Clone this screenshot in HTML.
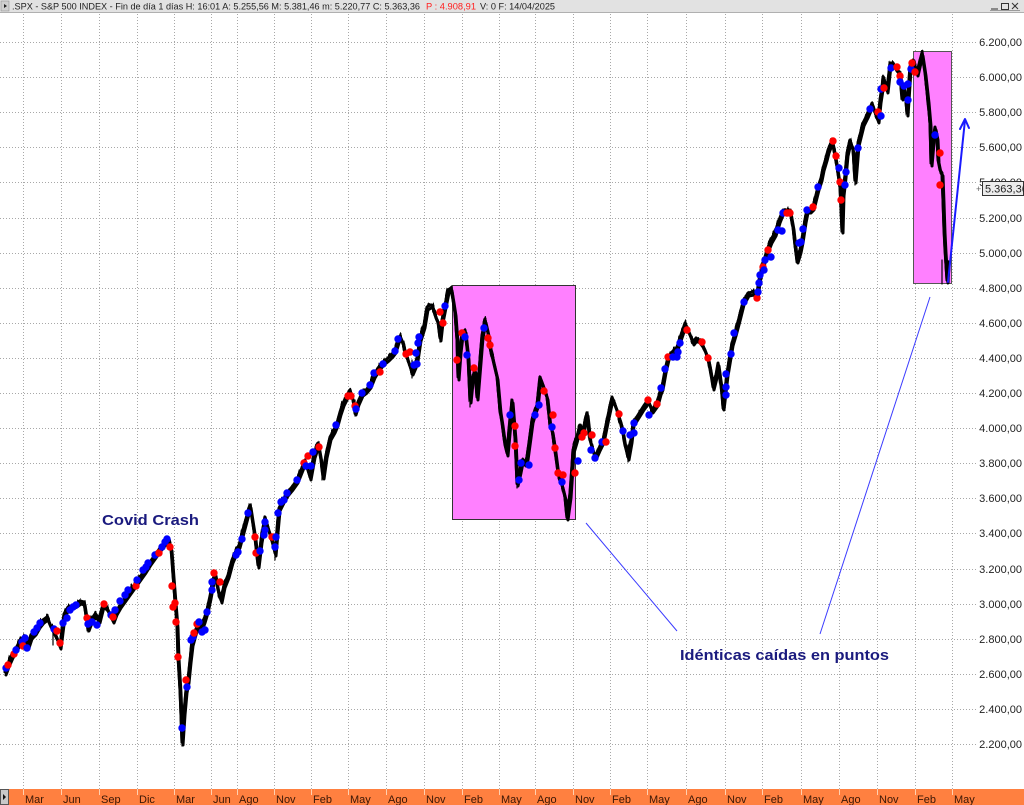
<!DOCTYPE html>
<html><head><meta charset="utf-8">
<style>
html,body{margin:0;padding:0;background:#fff;}
svg{display:block;}
text{font-family:"Liberation Sans",Arial,sans-serif;}
.b{fill:#0000ff;}
.r{fill:#ff0000;}
</style></head>
<body>
<svg width="1024" height="805" viewBox="0 0 1024 805" xmlns="http://www.w3.org/2000/svg">
<defs>
<filter id="jag" x="-2%" y="-5%" width="104%" height="110%">
<feTurbulence type="fractalNoise" baseFrequency="0.4 0.015" numOctaves="2" seed="7" result="n"/>
<feColorMatrix in="n" type="matrix" values="0 0 0 0 0.5  0 1 0 0 0  0 0 0 0 0  0 0 0 0 1" result="m"/>
<feDisplacementMap in="SourceGraphic" in2="m" scale="10" xChannelSelector="R" yChannelSelector="G"/>
</filter>
</defs>
<rect x="0" y="0" width="1024" height="805" fill="#fff"/>
<!-- header -->
<rect x="0" y="0" width="1024" height="12" fill="#e2e2e2"/>
<line x1="0" y1="12.5" x2="1024" y2="12.5" stroke="#b0b0b0" stroke-width="1"/>
<rect x="1" y="1" width="8" height="10" fill="#d0d0d0" stroke="#888" stroke-width="0.5"/>
<polygon points="4,4 7,6 4,8" fill="#222"/>
<text x="12" y="9.5" font-size="9" fill="#222" textLength="408" lengthAdjust="spacingAndGlyphs">.SPX - S&amp;P 500 INDEX - Fin de día 1 días H: 16:01  A: 5.255,56  M: 5.381,46  m: 5.220,77  C: 5.363,36</text>
<text x="426" y="9.5" font-size="9" fill="#ff2020" textLength="50" lengthAdjust="spacingAndGlyphs">P : 4.908,91</text>
<text x="480" y="9.5" font-size="9" fill="#222" textLength="75" lengthAdjust="spacingAndGlyphs">V: 0  F: 14/04/2025</text>
<g stroke="#333" stroke-width="1" fill="none">
<line x1="991" y1="9" x2="998" y2="9"/>
<rect x="1001.5" y="3.5" width="7" height="6"/>
<line x1="1012" y1="3" x2="1018" y2="9"/><line x1="1018" y1="3" x2="1012" y2="9"/>
</g>
<line x1="990" y1="10.5" x2="1020" y2="10.5" stroke="#555" stroke-width="0.6"/>

<!-- grid -->
<g stroke="#a8a8a8" stroke-width="1" stroke-dasharray="1 2">
<line x1="0" y1="42.5" x2="976" y2="42.5"/>
<line x1="0" y1="77.5" x2="976" y2="77.5"/>
<line x1="0" y1="112.5" x2="976" y2="112.5"/>
<line x1="0" y1="147.5" x2="976" y2="147.5"/>
<line x1="0" y1="182.5" x2="976" y2="182.5"/>
<line x1="0" y1="218.5" x2="976" y2="218.5"/>
<line x1="0" y1="253.5" x2="976" y2="253.5"/>
<line x1="0" y1="288.5" x2="976" y2="288.5"/>
<line x1="0" y1="323.5" x2="976" y2="323.5"/>
<line x1="0" y1="358.5" x2="976" y2="358.5"/>
<line x1="0" y1="393.5" x2="976" y2="393.5"/>
<line x1="0" y1="428.5" x2="976" y2="428.5"/>
<line x1="0" y1="463.5" x2="976" y2="463.5"/>
<line x1="0" y1="498.5" x2="976" y2="498.5"/>
<line x1="0" y1="533.5" x2="976" y2="533.5"/>
<line x1="0" y1="569.5" x2="976" y2="569.5"/>
<line x1="0" y1="604.5" x2="976" y2="604.5"/>
<line x1="0" y1="639.5" x2="976" y2="639.5"/>
<line x1="0" y1="674.5" x2="976" y2="674.5"/>
<line x1="0" y1="709.5" x2="976" y2="709.5"/>
<line x1="0" y1="744.5" x2="976" y2="744.5"/>
</g>
<g stroke="#a8a8a8" stroke-width="1" stroke-dasharray="1 2">
<line x1="23.5" y1="14" x2="23.5" y2="789"/>
<line x1="61.5" y1="14" x2="61.5" y2="789"/>
<line x1="99.5" y1="14" x2="99.5" y2="789"/>
<line x1="137.5" y1="14" x2="137.5" y2="789"/>
<line x1="174.5" y1="14" x2="174.5" y2="789"/>
<line x1="211.5" y1="14" x2="211.5" y2="789"/>
<line x1="237.5" y1="14" x2="237.5" y2="789"/>
<line x1="274.5" y1="14" x2="274.5" y2="789"/>
<line x1="311.5" y1="14" x2="311.5" y2="789"/>
<line x1="348.5" y1="14" x2="348.5" y2="789"/>
<line x1="386.5" y1="14" x2="386.5" y2="789"/>
<line x1="424.5" y1="14" x2="424.5" y2="789"/>
<line x1="462.5" y1="14" x2="462.5" y2="789"/>
<line x1="499.5" y1="14" x2="499.5" y2="789"/>
<line x1="535.5" y1="14" x2="535.5" y2="789"/>
<line x1="573.5" y1="14" x2="573.5" y2="789"/>
<line x1="610.5" y1="14" x2="610.5" y2="789"/>
<line x1="647.5" y1="14" x2="647.5" y2="789"/>
<line x1="686.5" y1="14" x2="686.5" y2="789"/>
<line x1="725.5" y1="14" x2="725.5" y2="789"/>
<line x1="762.5" y1="14" x2="762.5" y2="789"/>
<line x1="801.5" y1="14" x2="801.5" y2="789"/>
<line x1="839.5" y1="14" x2="839.5" y2="789"/>
<line x1="877.5" y1="14" x2="877.5" y2="789"/>
<line x1="915.5" y1="14" x2="915.5" y2="789"/>
<line x1="952.5" y1="14" x2="952.5" y2="789"/>
</g>

<!-- right axis labels -->
<g font-size="11" fill="#222" text-anchor="end">
<text x="1022" y="46">6.200,00</text>
<text x="1022" y="81">6.000,00</text>
<text x="1022" y="116">5.800,00</text>
<text x="1022" y="151">5.600,00</text>
<text x="1022" y="186">5.400,00</text>
<text x="1022" y="222">5.200,00</text>
<text x="1022" y="257">5.000,00</text>
<text x="1022" y="292">4.800,00</text>
<text x="1022" y="327">4.600,00</text>
<text x="1022" y="362">4.400,00</text>
<text x="1022" y="397">4.200,00</text>
<text x="1022" y="432">4.000,00</text>
<text x="1022" y="467">3.800,00</text>
<text x="1022" y="502">3.600,00</text>
<text x="1022" y="537">3.400,00</text>
<text x="1022" y="573">3.200,00</text>
<text x="1022" y="608">3.000,00</text>
<text x="1022" y="643">2.800,00</text>
<text x="1022" y="678">2.600,00</text>
<text x="1022" y="713">2.400,00</text>
<text x="1022" y="748">2.200,00</text>
</g>
<!-- price tag -->
<rect x="982.5" y="181.5" width="41" height="14" fill="#ececec" stroke="#333" stroke-width="1"/>
<text x="985" y="192.5" font-size="11" fill="#222">5.363,36</text>
<text x="976" y="192" font-size="9" fill="#666">+</text>

<!-- highlight boxes -->
<rect x="452.5" y="285.5" width="123" height="234" fill="#ff80ff" stroke="#333" stroke-width="1"/>
<rect x="913.5" y="51.5" width="38" height="232" fill="#ff80ff" stroke="#555" stroke-width="1"/>

<!-- price series -->
<g fill="none" stroke="#000" stroke-linejoin="round" stroke-linecap="round">
<polyline id="px" stroke-width="3" points="5,672 8,664 12,655 16,648 20,641 24,637 28,645 31,636 35,632 39,625 43,620 47,617 50,624 54,632 57,638 60,646 62,630 64,614 68,607 72,606 76,604 80,601 84,602 88,628 91,620 95,614 99,620 103,604 107,608 110,614 113,620 116,612 120,605 125,598 130,591 135,584 140,577 145,570 150,562 155,555 160,548 164,543 168,538 171,548 173,575 175,600 177,625 178,656 180,690 181,715 182,742 184,712 186,690 188,680 190,660 192,643 195,632 198,623 201,628 204,620 207,610 210,596 213,580 215,573 218,590 221,600 224,585 228,575 232,560 235,553 239,545 243,530 247,515 250,505 252,518 255,537 258,565 261,540 265,517 268,528 272,540 275,553 277,530 279,508 283,500 287,493 292,487 297,480 301,470 305,460 308,470 310,477 314,455 318,443 321,460 323,476 326,455 330,437 334,430 337,423 340,412 343,403 347,395 350,390 353,400 355,412 358,402 362,393 366,390 370,385 374,375 378,368 383,362 388,358 392,354 395,350 398,340 400,336 403,343 405,352 408,360 412,372 415,365 417,358 420,338 424,325 427,307 430,305 432,305 435,315 438,322 440,338 442,320 445,305 448,290 451,288 453,300 455,313 457,340 458,377 460,350 462,333 465,330 468,357 470,400 472,380 475,370 477,397 480,360 482,335 485,320 488,333 490,347 493,360 497,377 500,410 502,423 505,445 507,453 510,420 512,400 515,437 517,483 520,470 522,460 525,463 527,457 530,435 532,420 535,410 537,405 540,377 543,385 547,397 550,425 552,430 555,450 558,473 562,485 565,497 567,517 570,495 573,450 576,440 580,425 583,430 587,413 590,440 595,457 599,448 603,440 607,420 612,397 617,410 622,427 625,445 628,457 631,440 633,423 638,415 643,407 648,400 652,410 657,403 660,392 662,387 665,370 668,357 672,352 677,347 681,335 685,323 689,332 693,342 696,338 699,340 702,344 705,350 708,358 710,368 713,387 716,375 718,363 721,385 723,407 725,390 727,373 730,355 732,343 735,333 739,318 743,302 748,293 753,292 757,296 759,280 762,267 767,250 771,240 775,233 779,220 783,210 787,210 790,210 793,227 795,245 797,260 800,250 802,240 805,220 807,210 810,210 813,207 816,195 818,187 821,178 823,168 826,158 828,150 830,145 832,140 835,155 837,167 840,187 842,230 843,193 845,175 847,153 850,140 853,150 855,180 858,143 860,135 863,123 867,115 870,108 872,103 875,112 878,120 880,100 882,87 883,77 887,90 890,63 893,63 896,68 900,73 902,97 905,90 907,113 910,67 913,60 917,73 920,60 922,53 925,73 928,100 930,123 931,163 933,140 935,127 937,137 938,160 940,170 942,173 943,200 944,230 945,250 946,265 947,280 948,262"/>
<use href="#px" stroke-width="2.5" transform="translate(1,3)"/>
<use href="#px" stroke-width="2.5" filter="url(#jag)"/>
<g stroke-width="1.2">
<line x1="53" y1="628" x2="53" y2="645"/><line x1="88" y1="615" x2="88" y2="632"/>
<line x1="182" y1="725" x2="182" y2="746"/><line x1="258" y1="550" x2="258" y2="568"/>
<line x1="275" y1="540" x2="275" y2="560"/><line x1="322" y1="462" x2="322" y2="480"/>
<line x1="355" y1="400" x2="355" y2="416"/><line x1="412" y1="360" x2="412" y2="378"/>
<line x1="440" y1="325" x2="440" y2="342"/><line x1="470" y1="385" x2="470" y2="407"/>
<line x1="517" y1="470" x2="517" y2="488"/><line x1="567" y1="500" x2="567" y2="519"/>
<line x1="628" y1="445" x2="628" y2="462"/><line x1="723" y1="395" x2="723" y2="410"/>
<line x1="797" y1="248" x2="797" y2="262"/><line x1="842" y1="210" x2="842" y2="233"/>
<line x1="855" y1="165" x2="855" y2="185"/><line x1="907" y1="100" x2="907" y2="116"/>
<line x1="931" y1="150" x2="931" y2="165"/><line x1="942" y1="260" x2="942" y2="284"/>
</g>
</g>

<!-- dots -->
<g>
<circle class="b" cx="6" cy="668" r="3.7"/><circle class="r" cx="8" cy="665" r="3.7"/>
<circle class="r" cx="14" cy="654" r="3.7"/><circle class="b" cx="16" cy="650" r="3.7"/>
<circle class="b" cx="22" cy="642" r="3.7"/><circle class="r" cx="23" cy="646" r="3.7"/>
<circle class="b" cx="25" cy="638" r="3.7"/><circle class="b" cx="27" cy="648" r="3.7"/>
<circle class="b" cx="34" cy="632" r="3.7"/><circle class="b" cx="37" cy="628" r="3.7"/>
<circle class="b" cx="40" cy="623" r="3.7"/><circle class="b" cx="54" cy="629" r="3.7"/>
<circle class="r" cx="57" cy="631" r="3.7"/><circle class="r" cx="60" cy="643" r="3.7"/>
<circle class="b" cx="63" cy="623" r="3.7"/><circle class="b" cx="67" cy="618" r="3.7"/>
<circle class="b" cx="70" cy="610" r="3.7"/><circle class="b" cx="73" cy="607" r="3.7"/>
<circle class="b" cx="76" cy="605" r="3.7"/><circle class="r" cx="87" cy="618" r="3.7"/>
<circle class="b" cx="88" cy="624" r="3.7"/><circle class="b" cx="92" cy="622" r="3.7"/>
<circle class="b" cx="97" cy="625" r="3.7"/><circle class="r" cx="104" cy="604" r="3.7"/>
<circle class="b" cx="111" cy="615" r="3.7"/><circle class="r" cx="113" cy="617" r="3.7"/>
<circle class="b" cx="115" cy="610" r="3.7"/><circle class="b" cx="120" cy="601" r="3.7"/>
<circle class="b" cx="125" cy="595" r="3.7"/><circle class="b" cx="128" cy="590" r="3.7"/>
<circle class="r" cx="136" cy="586" r="3.7"/><circle class="b" cx="137" cy="580" r="3.7"/>
<circle class="b" cx="143" cy="570" r="3.7"/><circle class="b" cx="146" cy="567" r="3.7"/>
<circle class="b" cx="148" cy="563" r="3.7"/><circle class="b" cx="155" cy="555" r="3.7"/>
<circle class="r" cx="159" cy="553" r="3.7"/><circle class="b" cx="162" cy="547" r="3.7"/>
<circle class="b" cx="165" cy="542" r="3.7"/><circle class="b" cx="167" cy="539" r="3.7"/>
<circle class="r" cx="170" cy="547" r="3.7"/><circle class="r" cx="172" cy="586" r="3.7"/>
<circle class="r" cx="173" cy="607" r="3.7"/><circle class="r" cx="175" cy="603" r="3.7"/>
<circle class="r" cx="176" cy="622" r="3.7"/><circle class="r" cx="178" cy="657" r="3.7"/>
<circle class="b" cx="182" cy="728" r="3.7"/><circle class="r" cx="186" cy="680" r="3.7"/>
<circle class="b" cx="187" cy="687" r="3.7"/><circle class="b" cx="191" cy="640" r="3.7"/>
<circle class="b" cx="193" cy="637" r="3.7"/><circle class="r" cx="194" cy="633" r="3.7"/>
<circle class="r" cx="197" cy="624" r="3.7"/><circle class="b" cx="199" cy="622" r="3.7"/>
<circle class="b" cx="202" cy="632" r="3.7"/><circle class="b" cx="205" cy="630" r="3.7"/>
<circle class="b" cx="207" cy="612" r="3.7"/><circle class="b" cx="212" cy="582" r="3.7"/>
<circle class="b" cx="212" cy="590" r="3.7"/><circle class="r" cx="214" cy="573" r="3.7"/>
<circle class="r" cx="220" cy="582" r="3.7"/><circle class="b" cx="236" cy="555" r="3.7"/>
<circle class="b" cx="238" cy="552" r="3.7"/><circle class="b" cx="242" cy="539" r="3.7"/>
<circle class="b" cx="248" cy="513" r="3.7"/><circle class="r" cx="255" cy="537" r="3.7"/>
<circle class="r" cx="256" cy="553" r="3.7"/><circle class="b" cx="260" cy="551" r="3.7"/>
<circle class="b" cx="265" cy="522" r="3.7"/><circle class="b" cx="265" cy="530" r="3.7"/>
<circle class="b" cx="264" cy="535" r="3.7"/><circle class="r" cx="272" cy="537" r="3.7"/>
<circle class="b" cx="275" cy="547" r="3.7"/><circle class="b" cx="276" cy="537" r="3.7"/>
<circle class="b" cx="278" cy="513" r="3.7"/><circle class="b" cx="281" cy="502" r="3.7"/>
<circle class="b" cx="284" cy="500" r="3.7"/><circle class="b" cx="287" cy="493" r="3.7"/>
<circle class="b" cx="297" cy="480" r="3.7"/><circle class="r" cx="304" cy="463" r="3.7"/>
<circle class="b" cx="306" cy="466" r="3.7"/><circle class="r" cx="308" cy="456" r="3.7"/>
<circle class="b" cx="311" cy="466" r="3.7"/><circle class="b" cx="313" cy="452" r="3.7"/>
<circle class="r" cx="319" cy="447" r="3.7"/><circle class="b" cx="336" cy="425" r="3.7"/>
<circle class="r" cx="348" cy="396" r="3.7"/><circle class="r" cx="351" cy="396" r="3.7"/>
<circle class="r" cx="355" cy="406" r="3.7"/><circle class="b" cx="356" cy="409" r="3.7"/>
<circle class="b" cx="362" cy="393" r="3.7"/><circle class="b" cx="370" cy="385" r="3.7"/>
<circle class="b" cx="374" cy="373" r="3.7"/><circle class="r" cx="380" cy="372" r="3.7"/>
<circle class="b" cx="383" cy="364" r="3.7"/><circle class="b" cx="395" cy="351" r="3.7"/>
<circle class="b" cx="398" cy="339" r="3.7"/><circle class="r" cx="406" cy="354" r="3.7"/>
<circle class="r" cx="410" cy="352" r="3.7"/><circle class="b" cx="414" cy="365" r="3.7"/>
<circle class="b" cx="417" cy="364" r="3.7"/><circle class="b" cx="416" cy="353" r="3.7"/>
<circle class="b" cx="418" cy="343" r="3.7"/><circle class="b" cx="419" cy="337" r="3.7"/>
<circle class="r" cx="440" cy="312" r="3.7"/><circle class="b" cx="445" cy="306" r="3.7"/>
<circle class="r" cx="443" cy="323" r="3.7"/><circle class="r" cx="457" cy="360" r="3.7"/>
<circle class="r" cx="462" cy="333" r="3.7"/><circle class="b" cx="465" cy="337" r="3.7"/>
<circle class="b" cx="467" cy="355" r="3.7"/><circle class="r" cx="474" cy="368" r="3.7"/>
<circle class="b" cx="484" cy="328" r="3.7"/><circle class="r" cx="488" cy="338" r="3.7"/>
<circle class="r" cx="490" cy="345" r="3.7"/><circle class="b" cx="510" cy="415" r="3.7"/>
<circle class="r" cx="515" cy="426" r="3.7"/><circle class="r" cx="515" cy="446" r="3.7"/>
<circle class="b" cx="521" cy="463" r="3.7"/><circle class="b" cx="529" cy="465" r="3.7"/>
<circle class="b" cx="519" cy="480" r="3.7"/><circle class="b" cx="535" cy="415" r="3.7"/>
<circle class="b" cx="539" cy="405" r="3.7"/><circle class="r" cx="544" cy="391" r="3.7"/>
<circle class="r" cx="553" cy="415" r="3.7"/><circle class="b" cx="552" cy="427" r="3.7"/>
<circle class="r" cx="555" cy="448" r="3.7"/><circle class="r" cx="558" cy="473" r="3.7"/>
<circle class="r" cx="563" cy="475" r="3.7"/><circle class="b" cx="562" cy="482" r="3.7"/>
<circle class="r" cx="575" cy="473" r="3.7"/><circle class="b" cx="578" cy="461" r="3.7"/>
<circle class="r" cx="582" cy="437" r="3.7"/><circle class="r" cx="584" cy="433" r="3.7"/>
<circle class="b" cx="591" cy="450" r="3.7"/><circle class="r" cx="592" cy="435" r="3.7"/>
<circle class="b" cx="595" cy="458" r="3.7"/><circle class="b" cx="602" cy="442" r="3.7"/>
<circle class="r" cx="606" cy="442" r="3.7"/><circle class="r" cx="619" cy="414" r="3.7"/>
<circle class="b" cx="623" cy="431" r="3.7"/><circle class="b" cx="630" cy="435" r="3.7"/>
<circle class="b" cx="634" cy="433" r="3.7"/><circle class="b" cx="634" cy="423" r="3.7"/>
<circle class="r" cx="648" cy="400" r="3.7"/><circle class="b" cx="649" cy="415" r="3.7"/>
<circle class="r" cx="657" cy="404" r="3.7"/><circle class="b" cx="661" cy="388" r="3.7"/>
<circle class="b" cx="665" cy="369" r="3.7"/><circle class="r" cx="668" cy="357" r="3.7"/>
<circle class="b" cx="673" cy="357" r="3.7"/><circle class="b" cx="677" cy="357" r="3.7"/>
<circle class="b" cx="678" cy="352" r="3.7"/><circle class="b" cx="680" cy="343" r="3.7"/>
<circle class="r" cx="687" cy="330" r="3.7"/><circle class="r" cx="702" cy="342" r="3.7"/>
<circle class="r" cx="708" cy="358" r="3.7"/><circle class="b" cx="726" cy="374" r="3.7"/>
<circle class="b" cx="726" cy="387" r="3.7"/><circle class="b" cx="726" cy="395" r="3.7"/>
<circle class="b" cx="731" cy="354" r="3.7"/><circle class="b" cx="734" cy="333" r="3.7"/>
<circle class="b" cx="744" cy="302" r="3.7"/><circle class="r" cx="757" cy="298" r="3.7"/>
<circle class="b" cx="758" cy="292" r="3.7"/><circle class="b" cx="759" cy="283" r="3.7"/>
<circle class="b" cx="760" cy="275" r="3.7"/><circle class="r" cx="763" cy="267" r="3.7"/>
<circle class="b" cx="764" cy="270" r="3.7"/><circle class="b" cx="765" cy="260" r="3.7"/>
<circle class="r" cx="768" cy="250" r="3.7"/><circle class="b" cx="771" cy="257" r="3.7"/>
<circle class="b" cx="778" cy="230" r="3.7"/><circle class="b" cx="782" cy="231" r="3.7"/>
<circle class="b" cx="783" cy="213" r="3.7"/><circle class="r" cx="787" cy="213" r="3.7"/>
<circle class="r" cx="790" cy="213" r="3.7"/><circle class="b" cx="799" cy="243" r="3.7"/>
<circle class="b" cx="801" cy="242" r="3.7"/><circle class="b" cx="803" cy="229" r="3.7"/>
<circle class="b" cx="807" cy="210" r="3.7"/><circle class="r" cx="813" cy="207" r="3.7"/>
<circle class="b" cx="818" cy="187" r="3.7"/><circle class="r" cx="833" cy="141" r="3.7"/>
<circle class="r" cx="836" cy="156" r="3.7"/><circle class="b" cx="839" cy="168" r="3.7"/>
<circle class="b" cx="846" cy="172" r="3.7"/><circle class="r" cx="840" cy="182" r="3.7"/>
<circle class="b" cx="845" cy="185" r="3.7"/><circle class="r" cx="841" cy="200" r="3.7"/>
<circle class="b" cx="858" cy="148" r="3.7"/><circle class="b" cx="870" cy="109" r="3.7"/>
<circle class="r" cx="878" cy="112" r="3.7"/><circle class="b" cx="881" cy="116" r="3.7"/>
<circle class="b" cx="881" cy="89" r="3.7"/><circle class="r" cx="884" cy="88" r="3.7"/>
<circle class="b" cx="891" cy="68" r="3.7"/><circle class="r" cx="897" cy="67" r="3.7"/>
<circle class="r" cx="900" cy="76" r="3.7"/><circle class="b" cx="900" cy="82" r="3.7"/>
<circle class="b" cx="904" cy="86" r="3.7"/><circle class="b" cx="908" cy="84" r="3.7"/>
<circle class="b" cx="908" cy="100" r="3.7"/><circle class="b" cx="911" cy="69" r="3.7"/>
<circle class="r" cx="912" cy="63" r="3.7"/><circle class="r" cx="915" cy="72" r="3.7"/>
<circle class="b" cx="935" cy="135" r="3.7"/><circle class="r" cx="940" cy="153" r="3.7"/>
<circle class="r" cx="940" cy="185" r="3.7"/>
</g>

<!-- annotations -->
<g stroke="#3b3bff" stroke-width="1" fill="none">
<line x1="586" y1="523" x2="677" y2="631"/>
<line x1="820" y1="634" x2="930" y2="297"/>
</g>
<g stroke="#1a1aff" stroke-width="2" fill="none" stroke-linecap="round" stroke-linejoin="round">
<line x1="948" y1="282" x2="965" y2="120"/>
<polyline points="960,129 965,119 969,128"/>
</g>
<text x="102" y="525" font-size="15" font-weight="bold" fill="#1a1a7e" textLength="97" lengthAdjust="spacingAndGlyphs">Covid Crash</text>
<text x="680" y="660" font-size="15" font-weight="bold" fill="#1a1a7e" textLength="209" lengthAdjust="spacingAndGlyphs">Idénticas caídas en puntos</text>

<!-- bottom axis -->
<rect x="0" y="789" width="1024" height="16" fill="#ff8040"/>
<rect x="0.5" y="789.5" width="8" height="15" fill="#c8c8c8" stroke="#555" stroke-width="1"/>
<polygon points="3,794 6,797 3,800" fill="#111"/>
<g stroke="#ffd0b0" stroke-width="1">
<line x1="23.5" y1="789" x2="23.5" y2="795"/><line x1="61.5" y1="789" x2="61.5" y2="795"/>
<line x1="99.5" y1="789" x2="99.5" y2="795"/><line x1="137.5" y1="789" x2="137.5" y2="795"/>
<line x1="174.5" y1="789" x2="174.5" y2="795"/><line x1="211.5" y1="789" x2="211.5" y2="795"/>
<line x1="237.5" y1="789" x2="237.5" y2="795"/><line x1="274.5" y1="789" x2="274.5" y2="795"/>
<line x1="311.5" y1="789" x2="311.5" y2="795"/><line x1="348.5" y1="789" x2="348.5" y2="795"/>
<line x1="386.5" y1="789" x2="386.5" y2="795"/><line x1="424.5" y1="789" x2="424.5" y2="795"/>
<line x1="462.5" y1="789" x2="462.5" y2="795"/><line x1="499.5" y1="789" x2="499.5" y2="795"/>
<line x1="535.5" y1="789" x2="535.5" y2="795"/><line x1="573.5" y1="789" x2="573.5" y2="795"/>
<line x1="610.5" y1="789" x2="610.5" y2="795"/><line x1="647.5" y1="789" x2="647.5" y2="795"/>
<line x1="686.5" y1="789" x2="686.5" y2="795"/><line x1="725.5" y1="789" x2="725.5" y2="795"/>
<line x1="762.5" y1="789" x2="762.5" y2="795"/><line x1="801.5" y1="789" x2="801.5" y2="795"/>
<line x1="839.5" y1="789" x2="839.5" y2="795"/><line x1="877.5" y1="789" x2="877.5" y2="795"/>
<line x1="915.5" y1="789" x2="915.5" y2="795"/><line x1="952.5" y1="789" x2="952.5" y2="795"/>
</g>
<g font-size="11" fill="#3a1605">
<text x="25" y="803">Mar</text><text x="63" y="803">Jun</text><text x="101" y="803">Sep</text>
<text x="139" y="803">Dic</text><text x="176" y="803">Mar</text><text x="213" y="803">Jun</text>
<text x="239" y="803">Ago</text><text x="276" y="803">Nov</text><text x="313" y="803">Feb</text>
<text x="350" y="803">May</text><text x="388" y="803">Ago</text><text x="426" y="803">Nov</text>
<text x="464" y="803">Feb</text><text x="501" y="803">May</text><text x="537" y="803">Ago</text>
<text x="575" y="803">Nov</text><text x="612" y="803">Feb</text><text x="649" y="803">May</text>
<text x="688" y="803">Ago</text><text x="727" y="803">Nov</text><text x="764" y="803">Feb</text>
<text x="803" y="803">May</text><text x="841" y="803">Ago</text><text x="879" y="803">Nov</text>
<text x="917" y="803">Feb</text><text x="954" y="803">May</text>
</g>
</svg>
</body></html>
